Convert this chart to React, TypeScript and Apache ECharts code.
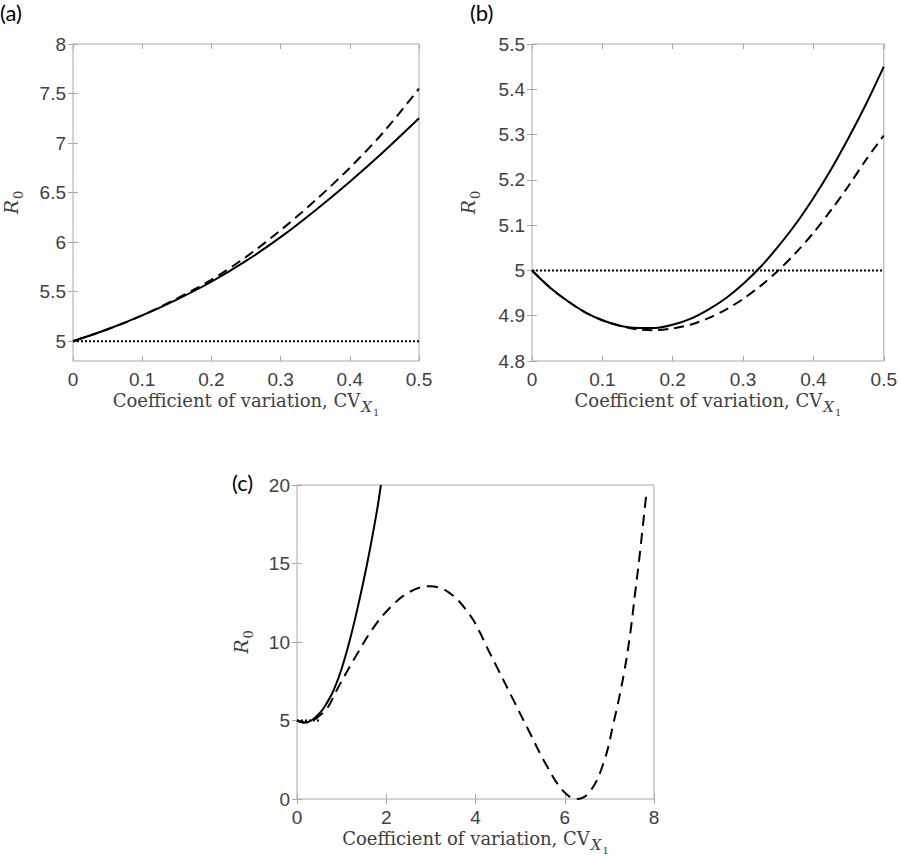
import React, { useEffect, useRef } from "react";
import * as echarts from "echarts";

// Panel (a)
const aX = [0, 0.05, 0.1, 0.15, 0.2, 0.25, 0.3, 0.35, 0.4, 0.45, 0.5];
const aSolid = [5, 5.12, 5.26, 5.42, 5.6, 5.81, 6.05, 6.32, 6.61, 6.92, 7.25];
const aDashed = [5, 5.12, 5.26, 5.43, 5.62, 5.85, 6.12, 6.42, 6.75, 7.12, 7.55];
const aDotX = [0, 0.5];
const aDotY = [5, 5];

// Panel (b)
const bX = [0, 0.025, 0.05, 0.075, 0.1, 0.125, 0.15, 0.175, 0.2, 0.225, 0.25, 0.275, 0.3, 0.325, 0.35, 0.375, 0.4, 0.425, 0.45, 0.475, 0.5];
const bSolid = [5.0, 4.963, 4.933, 4.908, 4.89, 4.878, 4.873, 4.873, 4.88, 4.893, 4.913, 4.938, 4.97, 5.008, 5.053, 5.103, 5.16, 5.223, 5.293, 5.368, 5.45];
const bDashed = [5.0, 4.963, 4.933, 4.908, 4.89, 4.878, 4.87, 4.868, 4.872, 4.88, 4.894, 4.913, 4.937, 4.966, 5.0, 5.039, 5.083, 5.133, 5.187, 5.245, 5.298];
const bDotX = [0, 0.5];
const bDotY = [5, 5];

// Panel (c)
const cSolidX = [0, 0.16, 0.32, 0.5, 0.6, 0.8, 1.0, 1.2, 1.4, 1.6, 1.8, 1.88];
const cSolidY = [5, 4.87, 5.0, 5.45, 5.8, 6.8, 8.3, 10.3, 12.7, 15.4, 18.5, 20];
const cDashX = [0, 0.16, 0.35, 0.5, 0.67, 0.96, 1.34, 1.71, 2.09, 2.53, 2.98, 3.43, 3.88, 4.1, 4.25, 4.48, 4.85, 5.22, 5.6, 5.97, 6.27, 6.57, 6.87, 7.09, 7.32, 7.47, 7.58, 7.67, 7.83];
const cDashY = [5, 4.87, 5.0, 5.3, 5.75, 7.3, 9.2, 10.9, 12.2, 13.2, 13.55, 13.1, 11.7, 10.6, 9.7, 8.4, 6.3, 4.2, 2.1, 0.5, 0.0, 0.5, 2.3, 4.8, 7.9, 10.6, 13.2, 15.3, 19.5];
const cDotX = [0, 0.5];
const cDotY = [5, 5];

const aYTicks = [5, 5.5, 6, 6.5, 7, 7.5, 8];

const pairs = (xs: number[], ys: number[]) => xs.map((x, i) => [x, ys[i]]);

const BOX = "#a8a8a8";
const LABEL = "#404040";
const SANS = "Liberation Sans";
const SERIF = "DejaVu Serif";

const xName = "{t|Coefficient of variation, CV}{x|X}{s|1}";
const yName = "{r|R}{z|0}";
const xRich = {
  t: { fontFamily: SERIF, fontSize: 18, color: LABEL, padding: [0, 0, 8, 0], verticalAlign: "bottom" },
  x: { fontFamily: SERIF, fontStyle: "italic", fontSize: 15, color: LABEL, padding: [0, 0, 3, 1], verticalAlign: "bottom" },
  s: { fontFamily: SERIF, fontSize: 10, color: LABEL, padding: [0, 0, 0, 1], verticalAlign: "bottom" },
};
const yRich = {
  r: { fontFamily: SERIF, fontStyle: "italic", fontSize: 19, color: LABEL, padding: [0, 0, 5, 0], verticalAlign: "bottom" },
  z: { fontFamily: SERIF, fontSize: 13, color: LABEL, padding: [0, 0, 0, 1], verticalAlign: "bottom" },
};

const tick = { show: true, inside: true, length: 5, lineStyle: { color: BOX, width: 1 } };
const lbl = { color: LABEL, fontSize: 19, fontFamily: SANS };

export default function App() {
  const ref = useRef<HTMLDivElement>(null);
  useEffect(() => {
    if (!ref.current) return;
    const chart = echarts.init(ref.current, null, { renderer: "svg" });

    const grids = [
      { left: 62, top: 44, width: 357, height: 317 },
      { left: 532, top: 44, width: 356, height: 317 },
      { left: 297, top: 485, width: 357, height: 318 },
    ].map((g) => ({ ...g, show: true, borderColor: BOX, borderWidth: 1, backgroundColor: "transparent", containLabel: false }));

    const xAxes: any[] = [];
    const yAxes: any[] = [];
    const addAxes = (gi: number, xmin: number, xmax: number, xint: number, ymin: number, ymax: number, yint: number | null, yCustom: number[] | null, yGap: number) => {
      const xi = xAxes.length;
      xAxes.push({
        type: "value", gridIndex: gi, position: "bottom", min: xmin, max: xmax, interval: xint,
        axisLine: { show: false }, axisTick: tick, splitLine: { show: false },
        axisLabel: { ...lbl, margin: 9, showMinLabel: true, showMaxLabel: true },
        name: xName, nameLocation: "middle", nameGap: 30, nameTextStyle: { rich: xRich },
      });
      xAxes.push({
        type: "value", gridIndex: gi, position: "top", min: xmin, max: xmax, interval: xint,
        axisLine: { show: false }, axisTick: tick, splitLine: { show: false }, axisLabel: { show: false },
      });
      const yi = yAxes.length;
      const yBase: any = {
        type: "value", gridIndex: gi, min: ymin, max: ymax,
        axisLine: { show: false }, splitLine: { show: false },
      };
      if (yint !== null) yBase.interval = yint;
      yAxes.push({
        ...yBase, position: "left",
        axisTick: yCustom ? { ...tick, customValues: yCustom } : tick,
        axisLabel: yCustom ? { ...lbl, margin: 7, customValues: yCustom } : { ...lbl, margin: 7 },
        name: yName, nameLocation: "middle", nameGap: yGap, nameRotate: 90, nameTextStyle: { rich: yRich },
      });
      yAxes.push({
        ...yBase, position: "right",
        axisTick: yCustom ? { ...tick, customValues: yCustom } : tick,
        axisLabel: { show: false },
      });
      return { xi, yi };
    };

    const A = addAxes(0, 0, 0.5, 0.1, 4.8, 8, null, aYTicks, 48);
    const B = addAxes(1, 0, 0.5, 0.1, 4.8, 5.5, 0.1, null, 50);
    const C = addAxes(2, 0, 8, 2, 0, 20, 5, null, 42);

    const line = (ax: { xi: number; yi: number }, data: number[][], type: any, width = 2, smooth: number | boolean = 0.3) => ({
      type: "line", xAxisIndex: ax.xi, yAxisIndex: ax.yi, data, showSymbol: false, symbol: "none",
      smooth, clip: true, silent: true,
      lineStyle: { color: "#000", width, type, cap: "butt" },
    });

    const dash = [10, 6];
    const dashC = [11, 7];
    const dot = [2, 2];

    chart.setOption({
      animation: false,
      backgroundColor: "#fff",
      grid: grids,
      xAxis: xAxes,
      yAxis: yAxes,
      series: [
        line(A, pairs(aDotX, aDotY), dot, 2, false),
        line(A, pairs(aX, aDashed), dash),
        line(A, pairs(aX, aSolid), "solid"),
        line(B, pairs(bDotX, bDotY), dot, 2, false),
        line(B, pairs(bX, bDashed), dash),
        line(B, pairs(bX, bSolid), "solid"),
        line(C, pairs(cDotX, cDotY), dot, 2, false),
        line(C, pairs(cDashX, cDashY), dashC, 2, 0.4),
        line(C, pairs(cSolidX, cSolidY), "solid", 2, 0.3),
      ],
      graphic: [
        { type: "text", left: 0, top: 1, style: { text: "(a)", font: "22px Lato", fill: "#000" } },
        { type: "text", left: 470, top: 1, style: { text: "(b)", font: "22px Lato", fill: "#000" } },
        { type: "text", left: 232, top: 471, style: { text: "(c)", font: "22px Lato", fill: "#000" } },
      ],
    });
    return () => chart.dispose();
  }, []);
  return <div ref={ref} style={{ position: "fixed", left: 0, top: 0, width: 900, height: 856 }} />;
}
